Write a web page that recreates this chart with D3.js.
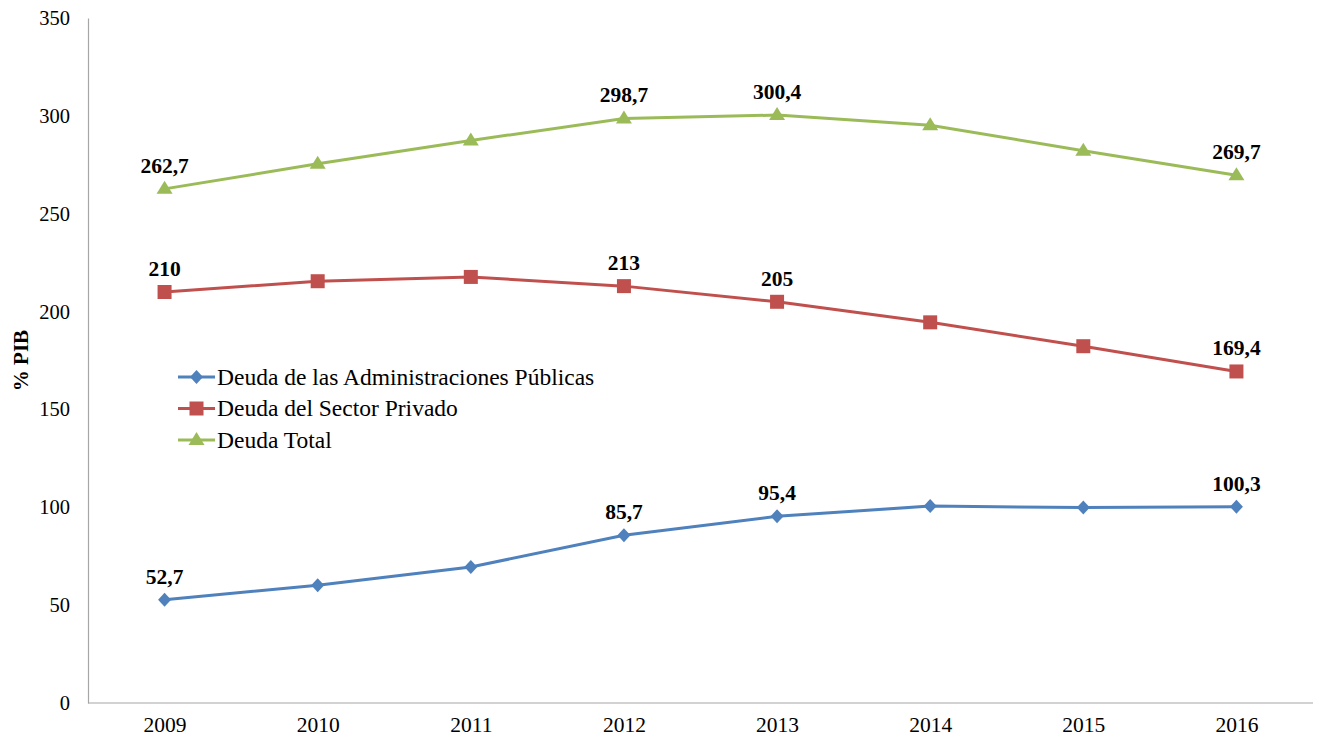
<!DOCTYPE html>
<html><head><meta charset="utf-8">
<script src="https://cdn.jsdelivr.net/npm/d3@7"></script>
<style>body{margin:0;background:#fff}svg{display:block}</style>
</head><body>
<svg id="c" width="1319" height="737"></svg>
<script>
const years = ["2009","2010","2011","2012","2013","2014","2015","2016"];
const publica = [52.7, 60.2, 69.5, 85.7, 95.4, 100.6, 99.9, 100.3];
const privado = [210, 215.5, 217.7, 213, 205, 194.5, 182.3, 169.4];
const total = [262.7, 275.5, 287.4, 298.7, 300.4, 295.2, 282.2, 269.7];
const seriesNames = ["Deuda de las Administraciones Públicas","Deuda del Sector Privado","Deuda Total"];
const labelled = [0, 3, 4, 7];
const yTicks = [0, 50, 100, 150, 200, 250, 300, 350];

const series = [
  {name: seriesNames[0], values: publica, color: "#4F81BD", marker: "diamond"},
  {name: seriesNames[1], values: privado, color: "#C0504D", marker: "square"},
  {name: seriesNames[2], values: total, color: "#9BBB59", marker: "triangle"}
];
const fmt = v => String(v).replace(".", ",");

const svg = d3.select("#c");
const L = 88, R = 1313, T = 18, B = 703;
const x = d3.scalePoint().domain(years).range([L, R]).padding(0.5);
const y = d3.scaleLinear().domain([0, 350]).range([B, T]);
const serif = "'Liberation Serif','Times New Roman',serif";

// axes
const yAx = svg.append("g").attr("transform", `translate(${L},0)`)
  .call(d3.axisLeft(y).tickValues(yTicks).tickSize(0).tickPadding(18));
yAx.select(".domain").attr("stroke", "#A6A6A6").attr("stroke-width", 1.2);
yAx.selectAll("text").attr("font-family", serif).attr("font-size", 20.5).attr("fill", "#000");

const xAx = svg.append("g").attr("transform", `translate(0,${B})`)
  .call(d3.axisBottom(x).tickSize(0).tickPadding(14));
xAx.select(".domain").attr("stroke", "#A6A6A6").attr("stroke-width", 1.2)
  .attr("d", `M${L},0H${R}`);
xAx.selectAll("text").attr("font-family", serif).attr("font-size", 21.5).attr("fill", "#000");

svg.append("text").attr("transform", `translate(28,${(T+B)/2}) rotate(-90)`)
  .attr("text-anchor", "middle").attr("font-family", serif).attr("font-weight", "bold")
  .attr("font-size", 21).text("% PIB");

function marker(sel, type, color) {
  if (type === "diamond") sel.append("path").attr("d", "M0,-7L6.5,0L0,7L-6.5,0Z").attr("fill", color);
  else if (type === "square") sel.append("rect").attr("x", -7).attr("y", -7).attr("width", 14).attr("height", 14).attr("fill", color);
  else sel.append("path").attr("d", "M0,-8L8,5L-8,5Z").attr("fill", color);
}

const line = d3.line().x((d, i) => x(years[i])).y(d => y(d));
series.forEach(s => {
  svg.append("path").datum(s.values).attr("d", line).attr("fill", "none")
    .attr("stroke", s.color).attr("stroke-width", 3);
  s.values.forEach((v, i) => {
    const g = svg.append("g").attr("transform", `translate(${x(years[i])},${y(v)})`);
    marker(g, s.marker, s.color);
  });
  labelled.forEach(i => {
    svg.append("text").attr("x", x(years[i])).attr("y", y(s.values[i]) - 16)
      .attr("text-anchor", "middle").attr("font-family", serif).attr("font-weight", "bold")
      .attr("font-size", 21.5).attr("fill", "#000").text(fmt(s.values[i]));
  });
});

// legend
const leg = svg.append("g").attr("transform", "translate(178,377)");
series.forEach((s, i) => {
  const g = leg.append("g").attr("transform", `translate(0,${i * 31.5})`);
  g.append("line").attr("x1", 0).attr("x2", 37).attr("stroke", s.color).attr("stroke-width", 3);
  const m = g.append("g").attr("transform", "translate(18.5,0)");
  marker(m, s.marker, s.color);
  g.append("text").attr("x", 39).attr("y", 7.5).attr("font-family", serif).attr("font-size", 23.5)
    .attr("fill", "#000").text(s.name);
});
</script>
</body></html>
